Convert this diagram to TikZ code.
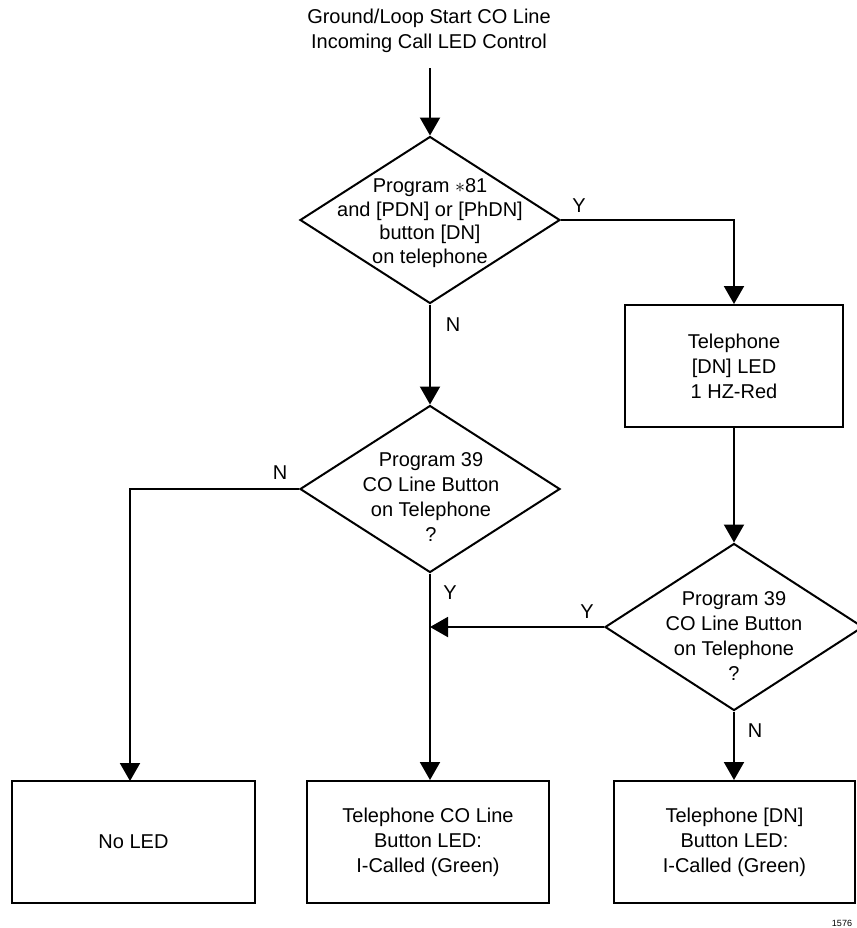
\documentclass[tikz,border=0pt]{standalone}
\usepackage{fontspec}
\setmainfont{Liberation Sans}
\usetikzlibrary{shapes.geometric,arrows.meta,calc}
\begin{document}
\begin{tikzpicture}[x=0.5pt,y=-0.5pt,
  every node/.style={font=\fontsize{10}{12.5}\selectfont},
  txt/.style={align=center,inner sep=0pt},
  dia/.style={draw,diamond,line width=1pt,inner sep=0pt,minimum width=130pt,minimum height=83.5pt},
  box/.style={draw,rectangle,line width=1pt,inner sep=0pt,minimum width=#1,minimum height=61pt},
  arr/.style={line width=1pt,-{Triangle[length=9pt,width=10pt]}},
  ln/.style={line width=1pt},
  lbl/.style={inner sep=0pt}]
\useasboundingbox (0,0) rectangle (857,928);

% title
\node[txt] (title) at (429,31) {Ground/Loop Start CO Line\\Incoming Call LED Control};
\coordinate (t0) at (430,68);

% decisions
\node[dia] (d1) at (430,220) {};
\node[txt,font=\fontsize{10}{11.75}\selectfont] (d1t) at (430,223) {Program $\ast$81\\and [PDN] or [PhDN]\\button [DN]\\on telephone};
\node[dia] (d2) at (430,489) {};
\node[txt] (d2t) at (431,497) {Program 39\\CO Line Button\\on Telephone\\?};
\node[dia,minimum width=129pt] (d3) at (734,627) {};
\node[txt] (d3t) at (734,636) {Program 39\\CO Line Button\\on Telephone\\?};

% boxes
\node[box=109pt,txt] (b1) at (734,366) {Telephone\\{}[DN] LED\\1 HZ-Red};
\node[box=121.5pt,txt] (b2) at (133.5,842) {No LED};
\node[box=121pt,txt] (b3) at (428,842) {Telephone CO Line\\Button LED:\\I-Called (Green)};
\node[box=120.5pt,txt] (b4) at (734.5,842) {Telephone [DN]\\Button LED:\\I-Called (Green)};
\coordinate (b2top) at (130,781);

% connectors
\draw[arr] (t0) -- (d1.north);
\draw[arr] (d1.east) -- (d1.east -| b1.north) -- (b1.north);
\draw[arr] (d1.south) -- (d2.north);
\draw[arr] (b1.south) -- (d3.north);
\draw[arr] (d2.west) -- (d2.west -| b2top) -- (b2top);
\draw[arr] (d2.south) -- (d2.south |- b3.north);
\draw[arr] (d3.west) -- (d3.west -| d2.south);
\draw[arr] (d3.south) -- (d3.south |- b4.north);

% labels
\node[lbl] (ly1) at (579,206) {Y};
\node[lbl] (ln1) at (453,325) {N};
\node[lbl] (ln2) at (280,473) {N};
\node[lbl] (ly2) at (450,593) {Y};
\node[lbl] (ly3) at (587,612) {Y};
\node[lbl] (ln3) at (755,731) {N};
\node[lbl,font=\fontsize{4.5}{5}\selectfont] (num) at (842,923) {1576};
\end{tikzpicture}
\end{document}
